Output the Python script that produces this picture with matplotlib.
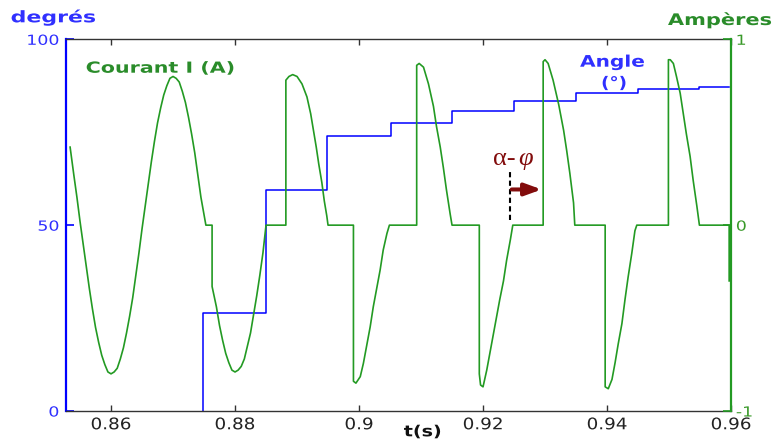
import matplotlib
matplotlib.use("Agg")
import matplotlib.pyplot as plt
from matplotlib.patheffects import AbstractPathEffect
from matplotlib.transforms import Affine2D

# load current I (A) vs time (s)
t_cur = [
    0.8534, 0.8540, 0.8545, 0.8550, 0.8555, 0.8560, 0.8565, 0.8570, 0.8575, 0.8580,
    0.8585, 0.8590, 0.8595, 0.8600, 0.8605, 0.8610, 0.8615, 0.8620, 0.8625, 0.8630,
    0.8635, 0.8640, 0.8645, 0.8650, 0.8655, 0.8660, 0.8665, 0.8670, 0.8675, 0.8680,
    0.8685, 0.8690, 0.8695, 0.8700, 0.8705, 0.8710, 0.8715, 0.8720, 0.8725, 0.8730,
    0.8735, 0.8740, 0.8745, 0.8753,
    0.8763, 0.8763, 0.8770, 0.8775, 0.8780, 0.8785, 0.8790, 0.8795, 0.8800, 0.8805,
    0.8810, 0.8815, 0.8820, 0.8825, 0.8830, 0.8835, 0.8840, 0.8845, 0.8850,
    0.8882, 0.8882, 0.8887, 0.8893, 0.8900, 0.8908, 0.8916, 0.8922, 0.8926, 0.8931,
    0.8935, 0.8940, 0.8944, 0.8948, 0.8950,
    0.8991, 0.8991, 0.8995, 0.9002, 0.9007, 0.9012, 0.9018, 0.9023, 0.9029, 0.9034,
    0.9039, 0.9045, 0.9049,
    0.9093, 0.9093, 0.9097, 0.9104, 0.9112, 0.9120, 0.9125, 0.9131, 0.9136, 0.9141,
    0.9147, 0.9150,
    0.9194, 0.9194, 0.9196, 0.9200, 0.9206, 0.9211, 0.9217, 0.9222, 0.9227, 0.9233,
    0.9238, 0.9244, 0.9248,
    0.9297, 0.9297, 0.9300, 0.9305, 0.9313, 0.9322, 0.9330, 0.9335, 0.9340, 0.9346,
    0.9348,
    0.9397, 0.9397, 0.9402, 0.9408, 0.9413, 0.9418, 0.9424, 0.9429, 0.9434, 0.9440,
    0.9445, 0.9448,
    0.9499, 0.9499, 0.9502, 0.9507, 0.9512, 0.9518, 0.9523, 0.9528, 0.9534, 0.9539,
    0.9545, 0.9549,
    0.9597, 0.9597,
]
i_cur = [
    0.42, 0.27, 0.15, 0.02, -0.10, -0.22, -0.34, -0.45, -0.55, -0.63,
    -0.70, -0.75, -0.79, -0.80, -0.79, -0.77, -0.72, -0.66, -0.58, -0.49,
    -0.39, -0.27, -0.15, -0.02, 0.10, 0.22, 0.34, 0.45, 0.55, 0.63,
    0.70, 0.75, 0.79, 0.80, 0.79, 0.77, 0.72, 0.66, 0.58, 0.49,
    0.39, 0.27, 0.15, 0.00,
    0.00, -0.33, -0.44, -0.54, -0.62, -0.69, -0.74, -0.78, -0.79, -0.78,
    -0.76, -0.72, -0.65, -0.58, -0.48, -0.38, -0.27, -0.15, 0.00,
    0.00, 0.78, 0.80, 0.81, 0.80, 0.76, 0.69, 0.60, 0.52, 0.42,
    0.33, 0.23, 0.13, 0.05, 0.00,
    0.00, -0.84, -0.85, -0.815, -0.744, -0.654, -0.547, -0.439, -0.332, -0.242,
    -0.134, -0.045, 0.00,
    0.00, 0.86, 0.87, 0.85, 0.76, 0.64, 0.53, 0.42, 0.31, 0.19,
    0.06, 0.00,
    0.00, -0.80, -0.86, -0.87, -0.78, -0.69, -0.58, -0.49, -0.40, -0.30,
    -0.19, -0.08, 0.00,
    0.00, 0.88, 0.89, 0.87, 0.78, 0.65, 0.51, 0.40, 0.28, 0.12,
    0.00,
    0.00, -0.87, -0.88, -0.83, -0.74, -0.64, -0.53, -0.40, -0.28, -0.15,
    -0.03, 0.00,
    0.00, 0.89, 0.89, 0.87, 0.80, 0.71, 0.60, 0.49, 0.37, 0.24,
    0.10, 0.00,
    0.00, -0.30,
]

# firing angle (degrees), stepped at each current zero
t_angle = [0.8749, 0.8749, 0.8850, 0.8948, 0.9052, 0.9150, 0.9250, 0.9350, 0.9450, 0.9549, 0.9597]
angle_deg = [0, 26.4, 59.5, 74.0, 77.4, 80.8, 83.4, 85.5, 86.5, 87.2, 87.2]

x_ticks = [0.86, 0.88, 0.90, 0.92, 0.94, 0.96]
x_labels = ["0.86", "0.88", "0.9", "0.92", "0.94", "0.96"]
deg_ticks = [0, 50, 100]
amp_ticks = [-1, 0, 1]
amp_labels = ["-1", "0", "1"]

GREEN = "#239a23"
GREEN_TXT = "#2a8c2a"
BLUE = "#0000ff"
BLUE_TXT = "#3030ff"
MAROON = "#820c0c"
W, H = 773, 441


class Wide(AbstractPathEffect):
    """Stretch glyphs horizontally, the source screenshot has wide text."""

    def __init__(self, sx, anchor="c"):
        super().__init__()
        self.sx = sx
        self.anchor = anchor

    def draw_path(self, renderer, gc, tpath, affine, rgbFace=None):
        ext = tpath.transformed(affine).get_extents()
        if self.anchor == "l":
            x0 = ext.x0
        elif self.anchor == "r":
            x0 = ext.x1
        else:
            x0 = (ext.x0 + ext.x1) / 2
        aff = affine + Affine2D().translate(-x0, 0).scale(self.sx, 1).translate(x0, 0)
        renderer.draw_path(gc, tpath, aff, rgbFace)


def px(x, y):
    # pixel position in the 773x441 picture -> figure fraction
    return x / W, 1 - y / H


fig = plt.figure(figsize=(7.73, 4.41), dpi=100)
ax = fig.add_axes([0.0854, 0.068, 0.8603, 0.8429])
ax2 = ax.twinx()

ax.step(t_angle, angle_deg, where="post", color=BLUE, lw=1.1)
ax2.plot(t_cur, i_cur, color=GREEN, lw=1.2)

ax.set_xlim(0.85274, 0.96)
ax.set_ylim(0, 100)
ax2.set_ylim(-1, 1)

ax.set_xticks(x_ticks, x_labels)
ax.set_yticks(deg_ticks)
ax2.set_yticks(amp_ticks, amp_labels)

ax.tick_params(axis="x", direction="in", top=True, length=4, width=1,
               color="#333333", labelcolor="#222222", labelsize=11.5, pad=4.5)
ax.tick_params(axis="y", direction="in", length=5.5, width=1.2,
               color=BLUE, labelcolor=BLUE_TXT, labelsize=10, pad=5)
ax2.tick_params(axis="y", direction="in", length=5.5, width=1.2,
                color=GREEN, labelcolor="#3a9a2a", labelsize=10, pad=3.6)

for lbl in ax.get_xticklabels():
    lbl.set_path_effects([Wide(1.15)])
for lbl in ax.get_yticklabels():
    lbl.set_path_effects([Wide(1.25, "r")])
for lbl in ax2.get_yticklabels():
    lbl.set_path_effects([Wide(1.25, "l")])

for s in ("top", "bottom"):
    ax.spines[s].set_color("#333333")
    ax.spines[s].set_linewidth(1.0)
    ax2.spines[s].set_visible(False)
ax.spines["left"].set_color(BLUE)
ax.spines["left"].set_linewidth(1.6)
ax.spines["right"].set_visible(False)
ax2.spines["left"].set_visible(False)
ax2.spines["right"].set_color(GREEN)
ax2.spines["right"].set_linewidth(1.6)

# axis names and curve labels
fig.text(*px(53.5, 22.3), "degrés", color=BLUE_TXT, fontsize=11.5, fontweight="bold",
         ha="center", va="baseline", path_effects=[Wide(1.38)])
fig.text(*px(720, 25), "Ampères", color=GREEN_TXT, fontsize=11.5, fontweight="bold",
         ha="center", va="baseline", path_effects=[Wide(1.31)])
fig.text(*px(160, 72.7), "Courant I (A)", color=GREEN_TXT, fontsize=11, fontweight="bold",
         ha="center", va="baseline", path_effects=[Wide(1.35)])
fig.text(*px(612.5, 66.7), "Angle", color=BLUE_TXT, fontsize=11.5, fontweight="bold",
         ha="center", va="baseline", path_effects=[Wide(1.26)])
fig.text(*px(614, 88), "(°)", color=BLUE_TXT, fontsize=11.5, fontweight="bold",
         ha="center", va="baseline", path_effects=[Wide(1.15)])
fig.text(*px(422.5, 436.3), "t(s)", color="#111111", fontsize=11, fontweight="bold",
         ha="center", va="baseline", path_effects=[Wide(1.25)])

# alpha - phi marker: dashed line at the natural zero, arrow to the firing instant
ax2.plot([0.92435, 0.92435], [0.027, 0.296], color="black", lw=1.5, ls=(0, (2.5, 1.6)))
ax2.annotate("", xy=(0.92946, 0.192), xytext=(0.92462, 0.192),
             arrowprops=dict(arrowstyle="-|>,head_length=0.55,head_width=0.2",
                             color=MAROON, lw=2.9, mutation_scale=18,
                             shrinkA=0, shrinkB=0))
ax2.text(0.92161, 0.3226, "α-", color=MAROON, fontsize=19,
         family="Liberation Serif", ha="left", va="baseline")
ax2.text(0.92575, 0.3226, "φ", color=MAROON, fontsize=19, style="italic",
         family="Liberation Serif", ha="left", va="baseline")

fig.savefig("out.png", dpi=100)
